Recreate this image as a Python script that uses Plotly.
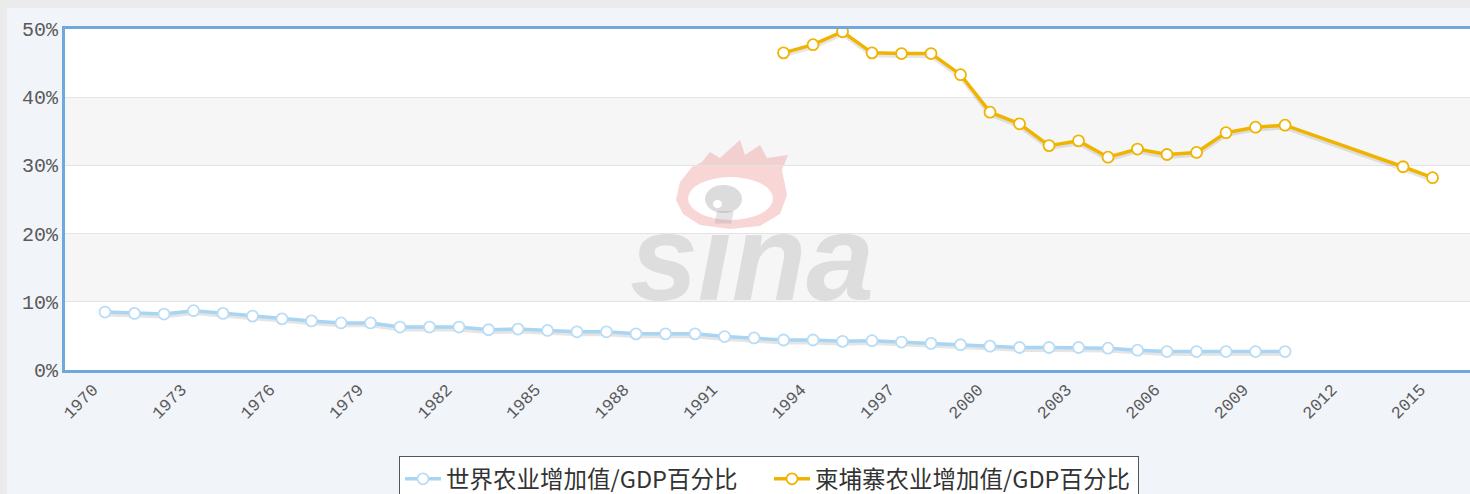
import plotly.graph_objects as go

# ---- data ----
world_years = list(range(1970, 2011))
world_values = [8.5, 8.3, 8.2, 8.7, 8.3, 7.9, 7.5, 7.2, 6.9, 6.9,
                6.3, 6.3, 6.3, 5.9, 6.0, 5.8, 5.6, 5.6, 5.3, 5.3,
                5.3, 4.9, 4.7, 4.4, 4.4, 4.2, 4.3, 4.1, 3.9, 3.7,
                3.5, 3.3, 3.3, 3.3, 3.2, 2.9, 2.7, 2.7, 2.7, 2.7, 2.7]

cam_years = list(range(1993, 2011)) + [2014, 2015]
cam_values = [46.5, 47.7, 49.6, 46.5, 46.4, 46.4, 43.3, 37.8, 36.1, 32.9,
              33.6, 31.2, 32.4, 31.6, 31.9, 34.8, 35.6, 35.9, 29.8, 28.2]

series_names = ["世界农业增加值/GDP百分比", "柬埔寨农业增加值/GDP百分比"]
x_tick_vals = list(range(1970, 2016, 3))
x_tick_text = [str(v) for v in x_tick_vals]
y_tick_vals = [0, 10, 20, 30, 40, 50]
y_tick_text = ["0%", "10%", "20%", "30%", "40%", "50%"]

world_color = "#a9d4f2"
world_marker_line = "#b9ddf6"
cam_color = "#f0b400"

fig = go.Figure()

# soft shadows under the lines
shadow_off = 0.35
fig.add_trace(go.Scatter(x=world_years, y=[v - shadow_off for v in world_values],
                         mode="lines", line=dict(color="rgba(0,0,0,0.10)", width=4),
                         hoverinfo="skip", showlegend=False))
fig.add_trace(go.Scatter(x=cam_years, y=[v - shadow_off for v in cam_values],
                         mode="lines", line=dict(color="rgba(0,0,0,0.10)", width=4),
                         hoverinfo="skip", showlegend=False))

fig.add_trace(go.Scatter(
    x=world_years, y=world_values, name=series_names[0], mode="lines+markers",
    line=dict(color=world_color, width=3.5),
    marker=dict(symbol="circle", size=11, color="white",
                line=dict(color=world_marker_line, width=1.8)),
))
fig.add_trace(go.Scatter(
    x=cam_years, y=cam_values, name=series_names[1], mode="lines+markers",
    line=dict(color=cam_color, width=3.5),
    marker=dict(symbol="circle", size=11, color="white",
                line=dict(color=cam_color, width=1.8)),
))

W, H = 1470, 494
L, R, T, B = 65, 0, 29, 124
pw, ph = W - L - R, H - T - B


def px_x(px):
    return (px - L) / pw


def px_y(py):
    return (H - B - py) / ph


shapes = []
# alternating horizontal bands
for lo, hi in [(10, 20), (30, 40)]:
    shapes.append(dict(type="rect", xref="paper", yref="y", x0=0, x1=1, y0=lo, y1=hi,
                       fillcolor="#f6f6f6", line=dict(width=0), layer="below"))
# outer light gray frame strips
shapes.append(dict(type="rect", xref="paper", yref="paper", x0=px_x(0), x1=px_x(W),
                   y0=px_y(8), y1=px_y(0), fillcolor="#ebebeb", line=dict(width=0), layer="below"))
shapes.append(dict(type="rect", xref="paper", yref="paper", x0=px_x(0), x1=px_x(7),
                   y0=px_y(H), y1=px_y(0), fillcolor="#ebebeb", line=dict(width=0), layer="below"))

# watermark logo (decoration): flame-topped eye
flame_pts = [(676, 200), (680, 182), (692, 167), (702, 162), (710, 152), (720, 158),
             (740, 140), (745, 155), (760, 145), (767, 158), (788, 155), (782, 170),
             (787, 195), (780, 214), (760, 226), (730, 229), (700, 225), (683, 214)]
flame_path = "M " + " L ".join(f"{px_x(a):.5f},{px_y(b):.5f}" for a, b in flame_pts) + " Z"
shapes.append(dict(type="path", xref="paper", yref="paper", path=flame_path,
                   fillcolor="rgba(235,120,120,0.30)", line=dict(width=0), layer="below"))
shapes.append(dict(type="circle", xref="paper", yref="paper",
                   x0=px_x(688), x1=px_x(773), y0=px_y(220), y1=px_y(177),
                   line=dict(width=0), fillcolor="white", layer="below"))
shapes.append(dict(type="circle", xref="paper", yref="paper",
                   x0=px_x(705), x1=px_x(742), y0=px_y(213), y1=px_y(185),
                   line=dict(width=0), fillcolor="rgba(150,150,150,0.33)", layer="below"))
shapes.append(dict(type="circle", xref="paper", yref="paper",
                   x0=px_x(713), x1=px_x(722), y0=px_y(208), y1=px_y(200),
                   line=dict(width=0), fillcolor="white", layer="below"))

annotations = [dict(text="<b><i>sina</i></b>", xref="paper", yref="paper",
                    x=px_x(752), y=px_y(258), xanchor="center", yanchor="middle",
                    showarrow=False,
                    font=dict(family="Liberation Sans", size=122, color="rgba(150,150,150,0.26)"))]

fig.update_layout(
    width=W, height=H,
    margin=dict(l=L, r=R, t=T, b=B, autoexpand=False),
    paper_bgcolor="#f1f4f9",
    plot_bgcolor="white",
    shapes=shapes,
    annotations=annotations,
    showlegend=True,
    legend=dict(orientation="h", xref="paper", x=px_x(769), xanchor="center",
                yref="paper", y=px_y(456), yanchor="top",
                bgcolor="white", bordercolor="#555555", borderwidth=1,
                font=dict(family="Noto Sans CJK SC", size=23.5, color="#333333"),
                itemwidth=36, entrywidth=318),
    xaxis=dict(range=[1968.644, 2016.27], tickmode="array", tickvals=x_tick_vals,
               ticktext=x_tick_text, tickangle=-45, showgrid=False, zeroline=False,
               showline=True, linecolor="#6ea8dc", linewidth=3, mirror=True,
               ticks="", automargin=False, ticklabelshift=-12,
               tickfont=dict(family="Liberation Mono", size=17, color="#5a5a5a")),
    yaxis=dict(range=[0, 50], tickmode="array", tickvals=y_tick_vals, ticktext=y_tick_text,
               showgrid=True, gridcolor="#e4e4e4", gridwidth=1, zeroline=False,
               showline=True, linecolor="#6ea8dc", linewidth=3, ticks="", automargin=False,
               tickfont=dict(family="Liberation Mono", size=20, color="#5a5a5a")),
)

fig.write_html("out.html", config={"displayModeBar": False},
               post_script="document.body.style.margin='0';document.body.style.overflow='hidden';")
